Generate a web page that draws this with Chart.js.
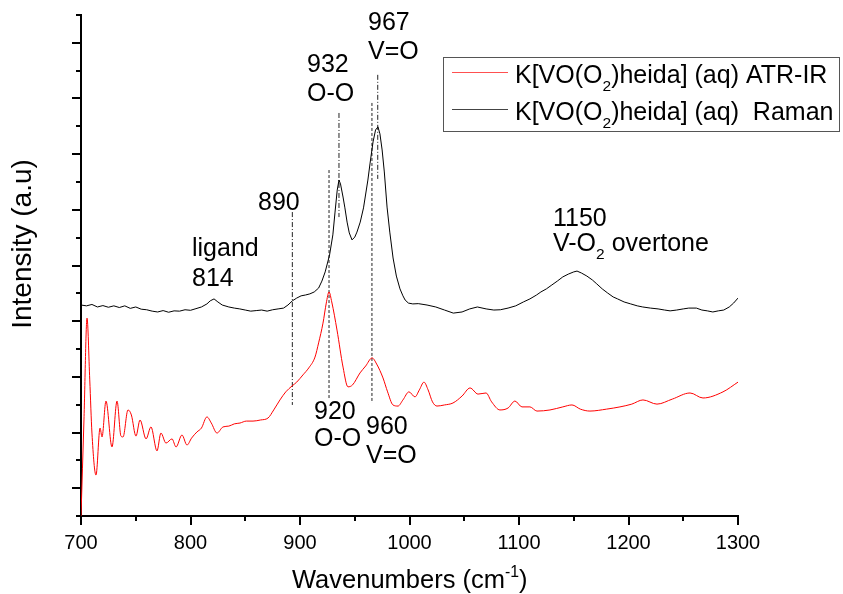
<!DOCTYPE html>
<html lang="en">
<head>
<meta charset="UTF-8">
<title>K[VO(O2)heida] ATR-IR and Raman</title>
<script src="https://cdn.jsdelivr.net/npm/chart.js"></script>
<style>
  body { margin: 0; background: #fff; }
</style>
</head>
<body>
<canvas id="myChart" width="843" height="594"></canvas>
<script>
// Raman spectrum (black)
const ramanX = [700,705,710,715,720,725,730,735,740,745,750,755,760,765,770,775,780,785,790,795,
  800,805,810,815,818,821.5,825,829,835,840,845,850,855,860,865,870,875,880,885,889,
  893,897,901,905,909,913,917,920,923,927,930,932,934,935.6,937,939.3,941,943,945,947.5,
  950,952,955,958,962,964,966.7,969,971.2,973,975,977,979.5,982,985,988,991.3,994,996,999,
  1003,1008,1016,1024,1032,1040,1048,1055,1062,1070,1077,1083,1090,1097,1104,1110,1116,1120,1125,1130,
  1135,1140,1145,1150,1153,1157,1162,1167,1171,1176,1181,1186,1190,1196,1202,1208,1213,1220,1227,1233,
  1238,1244,1250,1255,1258,1262,1267,1272,1277,1282,1287,1292,1296,1300];
const ramanY = [7.58,7.55,7.60,7.51,7.56,7.50,7.55,7.49,7.55,7.46,7.51,7.43,7.41,7.36,7.33,7.38,7.32,7.37,7.36,7.41,
  7.39,7.45,7.51,7.62,7.73,7.80,7.69,7.58,7.51,7.47,7.44,7.40,7.36,7.38,7.40,7.36,7.41,7.44,7.47,7.58,
  7.73,7.83,7.91,7.94,7.98,8.05,8.19,8.44,8.77,9.38,10.10,10.92,11.71,12.07,11.93,11.46,11.07,10.56,10.17,9.92,
  10.02,10.20,10.56,11.07,12.07,12.68,13.44,13.87,13.98,13.73,13.15,12.36,11.10,10.20,9.27,8.62,8.16,7.91,7.76,7.65,
  7.62,7.63,7.58,7.51,7.40,7.29,7.33,7.44,7.51,7.44,7.40,7.41,7.47,7.55,7.69,7.80,7.94,8.05,8.16,8.30,
  8.44,8.59,8.69,8.77,8.80,8.73,8.62,8.48,8.34,8.16,8.01,7.87,7.80,7.69,7.62,7.55,7.51,7.47,7.44,7.40,
  7.37,7.40,7.44,7.47,7.47,7.47,7.40,7.37,7.33,7.37,7.40,7.51,7.65,7.83];

// ATR-IR spectrum (red)
const irX = [700,702.7,705.5,708,710,713.7,717.4,719.2,722.8,728.3,732.9,736.5,738.4,742.9,746,750.2,753.9,759.4,763.9,769.4,
  773,777.6,783.1,786.8,792.2,796.8,801,805.9,810,815,819,824.2,829.7,835,840,845.2,851,857.1,864,870.8,
  876,881.7,887,892.7,897,902.7,908,913.7,917,921,924,926.5,929,933.8,939.3,943.8,948,954.8,960,965.8,
  970,975.8,980,984.9,989.5,994,999.5,1005,1009,1013.2,1017,1021,1025.1,1032,1039.7,1048,1055.3,1062.6,1069.9,1075,
  1082.6,1090,1096.3,1102.7,1110,1116.4,1128.3,1140,1148.4,1156,1164.8,1180,1192.2,1203,1213.2,1226,1240,1256.2,1268,1286.3,
  1300];
const irY = [0,3.45,7.11,4.89,2.98,1.47,3.16,2.84,4.13,2.48,4.13,2.87,2.84,3.81,3.63,2.87,3.45,2.77,3.20,2.34,
  2.98,2.62,2.77,2.48,2.91,2.55,2.80,3.02,3.16,3.56,3.34,2.98,3.20,3.23,3.31,3.34,3.41,3.41,3.45,3.52,
  3.81,4.17,4.46,4.67,4.81,5.07,5.32,5.71,6.22,6.93,7.65,8.05,7.69,6.68,5.35,4.64,4.71,5.14,5.39,5.68,
  5.46,4.96,4.46,3.99,3.95,4.17,4.46,4.28,4.53,4.81,4.53,4.10,3.95,3.99,4.06,4.31,4.60,4.38,4.42,4.10,
  3.81,3.88,4.13,3.92,3.92,3.77,3.81,3.92,3.99,3.84,3.77,3.84,3.92,4.02,4.17,4.02,4.20,4.42,4.24,4.46,
  4.81];

// peak marker lines
const markX = [893, 926.5, 935.6, 965.7, 971];
const markTop = [10.92, 12.43, 14.48, 14.84, 15.85];
const markBottom = [3.99, 4.17, 10.74, 4.06, 12.11];
const markDashDot = [true, false, true, false, true];

const seriesNames = ['K[VO(O_{2})heida] (aq) ATR-IR', 'K[VO(O_{2})heida] (aq)  Raman'];
const xTitle = 'Wavenumbers (cm^{-1})';
const yTitle = 'Intensity (a.u)';

// peak labels: text, left x, baseline y (px)
const notes = [
  ['967', 368, 30], ['V=O', 368, 59],
  ['932', 307, 72], ['O-O', 307, 101],
  ['890', 258, 210],
  ['ligand', 192, 256], ['814', 192, 286],
  ['1150', 553, 226], ['V-O_{2} overtone', 553, 251],
  ['920', 314, 419], ['O-O', 314, 446],
  ['960', 366, 434], ['V=O', 366, 463]
];

const FONT = '"Liberation Sans", Arial, sans-serif';

// split "a_{b}c^{d}" into parts
function parseRich(str) {
  const parts = [];
  const re = /([_^])\{([^}]*)\}/g;
  let last = 0, m;
  while ((m = re.exec(str)) !== null) {
    if (m.index > last) parts.push({ t: str.slice(last, m.index) });
    parts.push({ t: m[2], sub: m[1] === '_', sup: m[1] === '^' });
    last = re.lastIndex;
  }
  if (last < str.length) parts.push({ t: str.slice(last) });
  return parts;
}

function richWidth(ctx, str, size) {
  let w = 0;
  parseRich(str).forEach(p => {
    ctx.font = ((p.sub || p.sup) ? size * 0.62 : size) + 'px ' + FONT;
    w += ctx.measureText(p.t).width;
  });
  return w;
}

function drawRich(ctx, str, x, y, size) {
  let cx = x;
  parseRich(str).forEach(p => {
    const s = (p.sub || p.sup) ? size * 0.62 : size;
    ctx.font = s + 'px ' + FONT;
    const dy = p.sub ? size * 0.3 : (p.sup ? -size * 0.42 : 0);
    ctx.fillText(p.t, cx, y + dy);
    cx += ctx.measureText(p.t).width;
  });
}

const extras = {
  id: 'extras',
  afterDraw(chart) {
    const { ctx, chartArea: a, scales: { x, y } } = chart;
    ctx.save();
    ctx.strokeStyle = '#000';
    ctx.lineWidth = 2;
    // y ticks: long on odd values, short on even
    for (let v = 0; v <= 18; v++) {
      const py = Math.round(y.getPixelForValue(v));
      const len = v % 2 === 1 ? 9 : 5;
      ctx.beginPath();
      ctx.moveTo(a.left - len, py);
      ctx.lineTo(a.left, py);
      ctx.stroke();
    }
    // x ticks
    for (let v = 700; v <= 1300; v += 50) {
      const px = Math.round(x.getPixelForValue(v));
      const len = v % 100 === 0 ? 9 : 5;
      ctx.beginPath();
      ctx.moveTo(px, a.bottom);
      ctx.lineTo(px, a.bottom + len);
      ctx.stroke();
    }

    ctx.fillStyle = '#000';
    ctx.textBaseline = 'alphabetic';
    ctx.textAlign = 'left';

    // axis titles
    const tw = richWidth(ctx, xTitle, 25.5);
    drawRich(ctx, xTitle, 292, 588, 25.5);
    ctx.save();
    ctx.translate(31, 244);
    ctx.rotate(-Math.PI / 2);
    ctx.font = '28px ' + FONT;
    ctx.textAlign = 'center';
    ctx.fillText(yTitle, 0, 0);
    ctx.restore();

    // peak labels
    notes.forEach(n => drawRich(ctx, n[0], n[1], n[2], 25));

    // legend box
    ctx.strokeStyle = '#555';
    ctx.lineWidth = 1;
    ctx.strokeRect(443.5, 57.5, 396, 74);
    const colors = ['#ff5050', '#444'];
    const rowsY = [72, 109];
    seriesNames.forEach((name, i) => {
      ctx.strokeStyle = colors[i];
      ctx.beginPath();
      ctx.moveTo(452, rowsY[i] + 0.5);
      ctx.lineTo(508, rowsY[i] + 0.5);
      ctx.stroke();
      ctx.fillStyle = '#000';
      drawRich(ctx, name, 515, rowsY[i] + 11, 25);
    });
    ctx.restore();
  }
};

const datasets = [
  {
    label: 'ATR-IR',
    data: irX.map((v, i) => ({ x: v, y: irY[i] })),
    borderColor: '#ff0000',
    borderWidth: 1,
    pointRadius: 0,
    cubicInterpolationMode: 'monotone'
  },
  {
    label: 'Raman',
    data: ramanX.map((v, i) => ({ x: v, y: ramanY[i] })),
    borderColor: '#000',
    borderWidth: 1,
    pointRadius: 0,
    tension: 0
  }
];
markX.forEach((v, i) => {
  datasets.push({
    label: 'mark' + i,
    data: [{ x: v, y: markTop[i] }, { x: v, y: markBottom[i] }],
    borderColor: '#222',
    borderWidth: 1,
    pointRadius: 0,
    borderDash: markDashDot[i] ? [5, 2, 1, 2] : [3, 2]
  });
});

const ctx = document.getElementById('myChart').getContext('2d');
new Chart(ctx, {
  type: 'line',
  data: { datasets },
  options: {
    responsive: false,
    animation: false,
    layout: { padding: { top: 15, right: 105, left: 0, bottom: 0 } },
    plugins: { legend: { display: false }, tooltip: { enabled: false } },
    scales: {
      x: {
        type: 'linear',
        min: 700,
        max: 1300,
        ticks: {
          stepSize: 100,
          autoSkip: false,
          maxRotation: 0,
          color: '#000',
          padding: 6,
          font: { family: FONT, size: 20 },
          callback: v => String(v)
        },
        grid: { drawOnChartArea: false, tickLength: 9, tickColor: 'rgba(0,0,0,0)' },
        border: { color: '#000', width: 2 },
        afterFit: s => { s.height = 78; }
      },
      y: {
        min: 0,
        max: 18,
        ticks: { display: false },
        grid: { drawOnChartArea: false, drawTicks: false },
        border: { color: '#000', width: 2 },
        afterFit: s => { s.width = 81; }
      }
    }
  },
  plugins: [extras]
});
</script>
</body>
</html>
